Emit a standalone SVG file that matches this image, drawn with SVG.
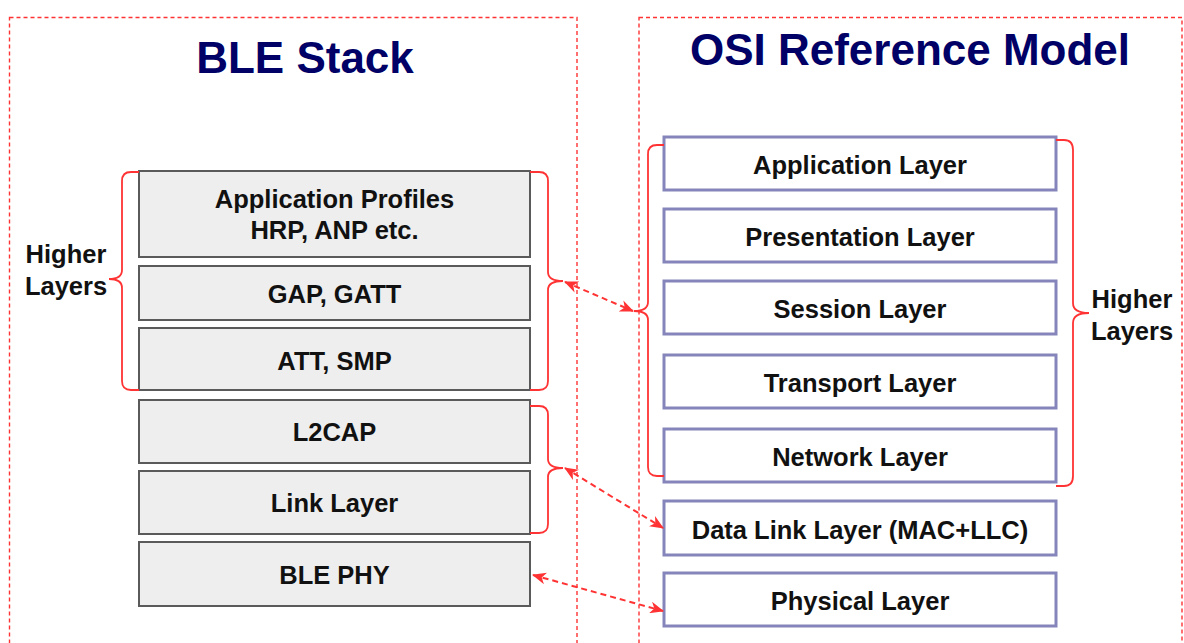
<svg xmlns="http://www.w3.org/2000/svg" width="1184" height="643" viewBox="0 0 1184 643">
<defs>
<style>
.frame{fill:none;stroke:#FF3333;stroke-width:1.4;stroke-dasharray:4 3}
.title{font-family:"Liberation Sans",Arial,sans-serif;font-weight:bold;font-size:44px;fill:#000066;text-anchor:middle}
.ble rect{fill:#EEEEEE;stroke:#5A5A5A;stroke-width:2}
.osi rect{fill:#FFFFFF;stroke:#8585BB;stroke-width:3}
text.t{font-family:"Liberation Sans",Arial,sans-serif;font-weight:bold;font-size:25.5px;fill:#111111;text-anchor:middle}
.brace{fill:none;stroke:#FF3333;stroke-width:1.8}
.arrow{fill:none;stroke:#FF3333;stroke-width:2;stroke-dasharray:6 4}
</style>
<marker id="ah" viewBox="0 0 14 12" refX="13" refY="6" markerWidth="14" markerHeight="12" markerUnits="userSpaceOnUse" orient="auto-start-reverse">
<path d="M0,0 L14,6 L0,12 L4,6 z" fill="#FF3333"/>
</marker>
</defs>
<rect width="1184" height="643" fill="#FFFFFF"/>

<g id="frames">
<rect class="frame" x="9.5" y="17.5" width="567.5" height="680"/>
<rect class="frame" x="639" y="17.5" width="543" height="680"/>
<text class="title" x="305" y="73">BLE Stack</text>
<text class="title" x="910" y="65">OSI Reference Model</text>
</g>

<g id="ble-app-profiles" class="ble"><rect x="139" y="171" width="391" height="86"/><text class="t" x="334.5" y="208">Application Profiles</text><text class="t" x="334.5" y="239">HRP, ANP etc.</text></g>
<g id="ble-gap-gatt" class="ble"><rect x="139" y="266" width="391" height="54"/><text class="t" x="334.5" y="303">GAP, GATT</text></g>
<g id="ble-att-smp" class="ble"><rect x="139" y="328" width="391" height="62"/><text class="t" x="334.5" y="369.5">ATT, SMP</text></g>
<g id="ble-l2cap" class="ble"><rect x="139" y="400" width="391" height="63"/><text class="t" x="334.5" y="441">L2CAP</text></g>
<g id="ble-link-layer" class="ble"><rect x="139" y="471" width="391" height="63"/><text class="t" x="334.5" y="512">Link Layer</text></g>
<g id="ble-phy" class="ble"><rect x="139" y="542" width="391" height="64"/><text class="t" x="334.5" y="583.5">BLE PHY</text></g>

<g id="osi-application" class="osi"><rect x="664" y="137" width="392" height="53"/><text class="t" x="860" y="174">Application Layer</text></g>
<g id="osi-presentation" class="osi"><rect x="664" y="209" width="392" height="53"/><text class="t" x="860" y="246">Presentation Layer</text></g>
<g id="osi-session" class="osi"><rect x="664" y="281" width="392" height="53"/><text class="t" x="860" y="318">Session Layer</text></g>
<g id="osi-transport" class="osi"><rect x="664" y="355" width="392" height="53"/><text class="t" x="860" y="392">Transport Layer</text></g>
<g id="osi-network" class="osi"><rect x="664" y="429" width="392" height="53"/><text class="t" x="860" y="466">Network Layer</text></g>
<g id="osi-datalink" class="osi"><rect x="664" y="501" width="392" height="54"/><text class="t" x="860" y="538.5">Data Link Layer (MAC+LLC)</text></g>
<g id="osi-physical" class="osi"><rect x="664" y="573" width="392" height="53"/><text class="t" x="860" y="610">Physical Layer</text></g>

<g id="ble-higher-layers">
<path class="brace" d="M139,172 H131 Q122,172 122,181 V270 Q122,279 109,279 Q122,279 122,288 V381 Q122,390 131,390 H139"/>
<text class="t" x="66" y="263">Higher</text>
<text class="t" x="66" y="295">Layers</text>
</g>

<g id="osi-higher-layers">
<path class="brace" d="M1056,140 H1064 Q1073,140 1073,150 V303 Q1073,313 1089,313 Q1073,313 1073,323 V476 Q1073,486 1064,486 H1056"/>
<text class="t" x="1132" y="308">Higher</text>
<text class="t" x="1132" y="340">Layers</text>
</g>

<g id="connectors">
<path class="brace" d="M530,172 H539 Q548,172 548,181 V272 Q548,281 563,281 Q548,281 548,290 V381 Q548,390 539,390 H530"/>
<path class="brace" d="M530,406 H539 Q548,406 548,415 V459 Q548,468 563,468 Q548,468 548,477 V524 Q548,533 539,533 H530"/>
<path class="brace" d="M664,145 H657 Q648,145 648,154 V302 Q648,311 634,311 Q648,311 648,320 V467 Q648,476 657,476 H664"/>
<line class="arrow" x1="565" y1="282" x2="633" y2="311" marker-start="url(#ah)" marker-end="url(#ah)"/>
<line class="arrow" x1="565" y1="468" x2="663" y2="528" marker-start="url(#ah)" marker-end="url(#ah)"/>
<line class="arrow" x1="533" y1="575" x2="663" y2="611" marker-start="url(#ah)" marker-end="url(#ah)"/>
</g>
</svg>
